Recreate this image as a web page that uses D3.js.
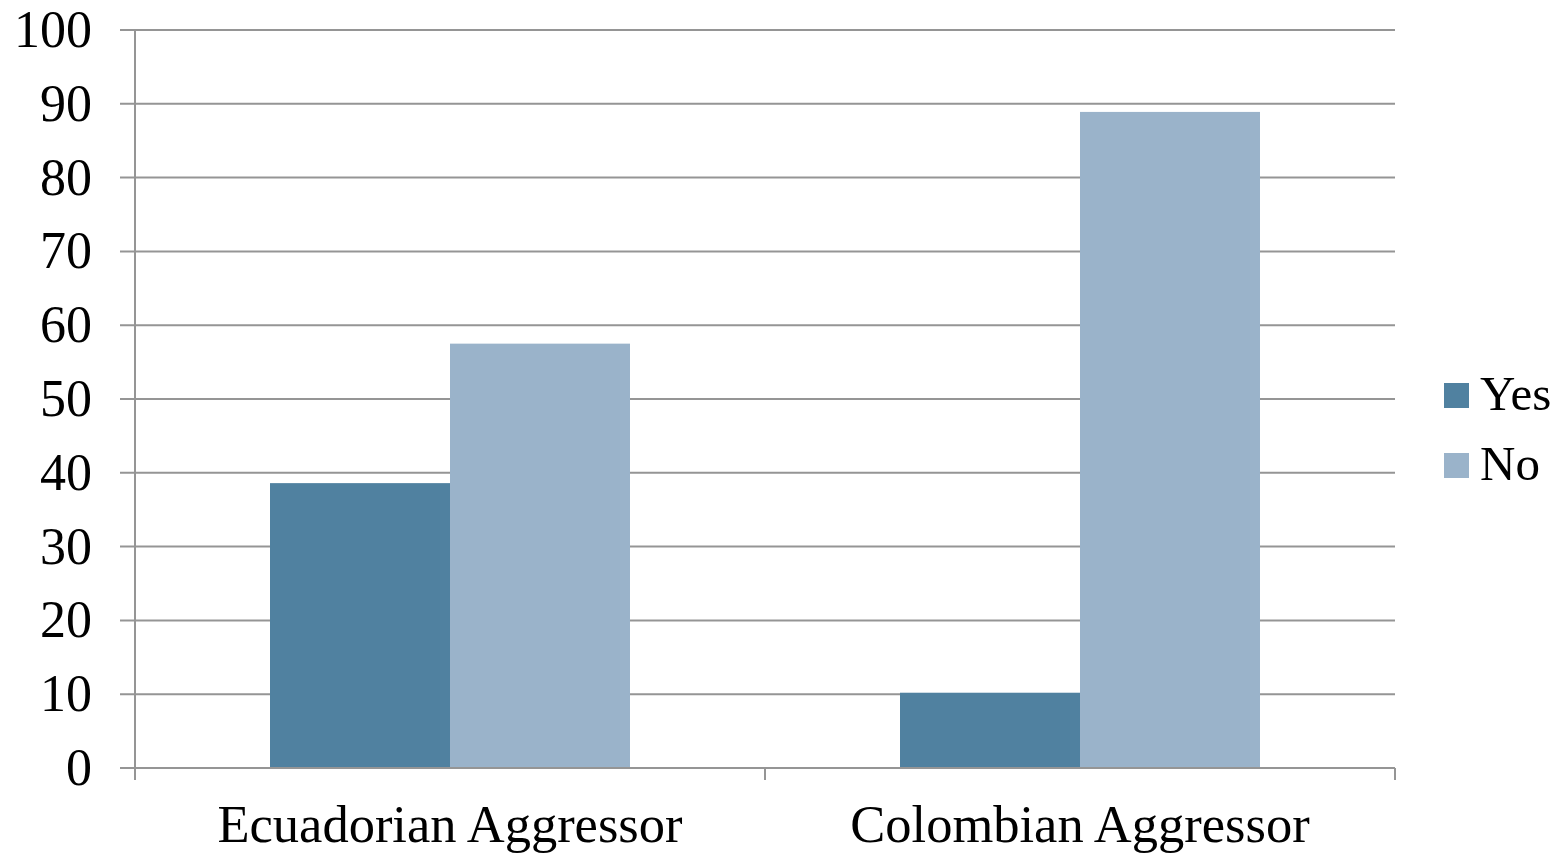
<!DOCTYPE html>
<html lang="en">
    <head>
        <meta charset="utf-8"/>
        <script src="https://d3js.org/d3.v7.min.js"></script>
        <style>
            body { margin: 0; background: #fff; }
            text { font-family: "Liberation Serif", "DejaVu Serif", serif; fill: #000; }
        </style>
    </head>
    <body>
        <div id="chart"></div>
    </body>
    <script>
        var categories = ["Ecuadorian Aggressor", "Colombian Aggressor"];
        var seriesNames = ["Yes", "No"];
        var yesValues = [38.6, 10.2];
        var noValues = [57.5, 88.9];
        var yTicks = [0, 10, 20, 30, 40, 50, 60, 70, 80, 90, 100];
        var colors = ["#5081a0", "#9ab3ca"];

        var width = 1562, height = 854;
        var margin = {top: 30, right: 167, bottom: 86, left: 135};
        var innerW = width - margin.left - margin.right;
        var innerH = height - margin.top - margin.bottom;

        var svg = d3.select("#chart")
            .append("svg")
                .attr("width", width)
                .attr("height", height);

        var g = svg.append("g")
            .attr("transform", "translate(" + margin.left + "," + margin.top + ")");

        var x = d3.scaleBand()
            .domain(categories)
            .range([0, innerW]);

        var xInner = d3.scaleBand()
            .domain(seriesNames)
            .range([0, x.bandwidth()])
            .paddingOuter(0.75);

        var y = d3.scaleLinear()
            .domain([0, 100])
            .range([innerH, 0]);

        // gridlines + left ticks
        g.append("g")
            .selectAll("line")
            .data(yTicks)
            .join("line")
                .attr("x1", -15)
                .attr("x2", innerW)
                .attr("y1", function (d) { return y(d); })
                .attr("y2", function (d) { return y(d); })
                .attr("stroke", "#959595")
                .attr("stroke-width", 2);

        var rows = categories.map(function (c, i) {
            return {cat: c, values: [yesValues[i], noValues[i]]};
        });

        var groups = g.selectAll(".grp")
            .data(rows)
            .join("g")
                .attr("transform", function (d) { return "translate(" + x(d.cat) + ",0)"; });

        groups.selectAll("rect")
            .data(function (d) { return d.values.map(function (v, i) { return {s: seriesNames[i], v: v, i: i}; }); })
            .join("rect")
                .attr("x", function (d) { return xInner(d.s); })
                .attr("width", xInner.bandwidth())
                .attr("y", function (d) { return y(d.v); })
                .attr("height", function (d) { return innerH - y(d.v); })
                .attr("fill", function (d) { return colors[d.i]; });

        // y axis line
        g.append("line")
            .attr("x1", 0).attr("x2", 0)
            .attr("y1", 0).attr("y2", innerH + 12)
            .attr("stroke", "#959595")
            .attr("stroke-width", 2);

        // x axis line and category ticks
        g.append("line")
            .attr("x1", 0).attr("x2", innerW)
            .attr("y1", innerH).attr("y2", innerH)
            .attr("stroke", "#959595")
            .attr("stroke-width", 2);

        var xEdges = categories.map(function (c) { return x(c); }).concat([innerW]);
        g.append("g")
            .selectAll("line")
            .data(xEdges)
            .join("line")
                .attr("x1", function (d) { return d; })
                .attr("x2", function (d) { return d; })
                .attr("y1", innerH)
                .attr("y2", innerH + 12)
                .attr("stroke", "#959595")
                .attr("stroke-width", 2);

        // y tick labels
        g.append("g")
            .selectAll("text")
            .data(yTicks)
            .join("text")
                .attr("x", -43)
                .attr("y", function (d) { return y(d) + 17; })
                .attr("text-anchor", "end")
                .style("font-size", "52px")
                .text(function (d) { return d; });

        // x labels
        g.append("g")
            .selectAll("text")
            .data(categories)
            .join("text")
                .attr("x", function (d) { return x(d) + x.bandwidth() / 2; })
                .attr("y", innerH + 74)
                .attr("text-anchor", "middle")
                .style("font-size", "52.5px")
                .text(function (d) { return d; });

        // legend
        var legend = svg.append("g")
            .attr("transform", "translate(1444,383)");

        var items = legend.selectAll("g")
            .data(seriesNames)
            .join("g")
                .attr("transform", function (d, i) { return "translate(0," + (i * 70) + ")"; });

        items.append("rect")
            .attr("width", 25)
            .attr("height", 25)
            .attr("fill", function (d, i) { return colors[i]; });

        items.append("text")
            .attr("x", 36)
            .attr("y", 27)
            .style("font-size", "49px")
            .text(function (d) { return d; });
    </script>
</html>
